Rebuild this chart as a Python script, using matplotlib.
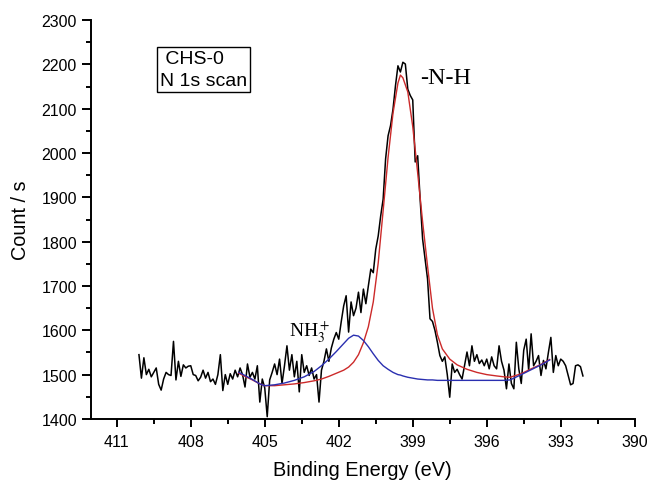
import numpy as np
import matplotlib
matplotlib.use('Agg')
import matplotlib.pyplot as plt
from matplotlib.ticker import MultipleLocator

plt.rcParams['font.family'] = ['Liberation Sans', 'DejaVu Sans']
plt.rcParams['mathtext.fontset'] = 'stix'

#
# raw N 1s spectrum, 0.1 eV steps from 410.1 eV down to 392.1 eV
#
be_start, be_end = 410.1, 392.1
counts = [
    1545, 1492, 1538, 1500, 1512, 1495, 1505, 1515, 1478, 1465,
    1490, 1505, 1500, 1498, 1575, 1488, 1530, 1496, 1522, 1515,
    1519, 1520, 1500, 1498, 1486, 1494, 1510, 1492, 1505, 1484,
    1490, 1478, 1500, 1545, 1464, 1500, 1478, 1502, 1490, 1510,
    1495, 1515, 1500, 1472, 1524, 1494, 1505, 1490, 1520, 1438,
    1490, 1470, 1405, 1488, 1505, 1524, 1500, 1535, 1480, 1520,
    1565, 1510, 1545, 1495, 1530, 1461, 1545, 1505, 1520, 1498,
    1515, 1490, 1500, 1438, 1510, 1530, 1558, 1530, 1560, 1580,
    1595, 1580, 1619, 1655, 1678, 1596, 1664, 1633, 1650, 1686,
    1640, 1693, 1660, 1700, 1738, 1730, 1783, 1813, 1858, 1896,
    1987, 2039, 2062, 2099, 2152, 2197, 2183, 2205, 2201, 2144,
    2130, 2120, 1980, 1994, 1896, 1806, 1760, 1716, 1626, 1620,
    1600, 1573, 1543, 1530, 1540, 1500, 1449, 1524, 1505, 1512,
    1500, 1490, 1520, 1551, 1520, 1565, 1530, 1545, 1525, 1533,
    1520, 1535, 1513, 1540, 1520, 1513, 1565, 1530, 1510, 1468,
    1524, 1480, 1468, 1573, 1513, 1480, 1555, 1580, 1510, 1592,
    1520, 1530, 1543, 1498, 1532, 1513, 1550, 1584, 1505, 1543,
    1520, 1535, 1530, 1520, 1498, 1477, 1480, 1520, 1522, 1518,
    1497,
]

#
# fitted components (each drawn on top of the background)
#
fit_be = [406.05, 405.8, 405.5, 405.2, 405.0, 404.6, 404.2, 403.8, 403.4,
          403.0, 402.7, 402.4, 402.1, 401.8, 401.6, 401.4, 401.2, 401.0,
          400.8, 400.6, 400.4, 400.2, 400.0, 399.8, 399.6, 399.5, 399.4,
          399.2, 399.0, 398.8, 398.6, 398.4, 398.2, 398.0, 397.8, 397.5,
          397.2, 396.8, 396.4, 396.0, 395.6, 395.3, 395.05, 394.6, 394.2,
          393.8, 393.45]
fit_nh = [1503, 1496, 1488, 1479, 1475, 1475, 1477, 1479, 1482,
          1486, 1490, 1496, 1503, 1510, 1517, 1528, 1545, 1572,
          1608, 1664, 1752, 1870, 1990, 2090, 2158, 2176, 2170,
          2138, 2060, 1955, 1845, 1745, 1650, 1590, 1558, 1535,
          1522, 1512, 1505, 1500, 1497, 1495, 1494, 1502, 1513,
          1523, 1534]
fit_nh3 = [1505, 1498, 1489, 1479, 1475, 1477, 1481, 1487, 1495,
           1507, 1520, 1535, 1552, 1570, 1582, 1589, 1587, 1577,
           1563, 1547, 1532, 1520, 1512, 1505, 1500, 1499, 1497,
           1494, 1492, 1490, 1489, 1488, 1488, 1487, 1487, 1487,
           1487, 1487, 1487, 1487, 1487, 1487, 1488, 1500, 1511,
           1522, 1533]

x_ticks = [411, 408, 405, 402, 399, 396, 393, 390]

be = np.linspace(be_start, be_end, len(counts))

fig = plt.figure(figsize=(6.49, 4.81), dpi=100)
ax = fig.add_axes([0.140, 0.127, 0.838, 0.829])

ax.plot(be, counts, color='k', lw=1.1)
ax.plot(fit_be, fit_nh, color='#cc2a2a', lw=1.0)
ax.plot(fit_be, fit_nh3, color='#2a2fb0', lw=1.0)

ax.set_xlim(412.05, 390)
ax.set_ylim(1400, 2300)
ax.set_xticks(x_ticks)
ax.xaxis.set_minor_locator(MultipleLocator(1.5))
ax.yaxis.set_major_locator(MultipleLocator(100))
ax.yaxis.set_minor_locator(MultipleLocator(50))

for side in ('top', 'right'):
    ax.spines[side].set_visible(False)
for side in ('left', 'bottom'):
    ax.spines[side].set_linewidth(1.4)

ax.tick_params(which='major', direction='out', length=6.5, width=1.4,
               labelsize=11.5, pad=3.5, colors='k')
ax.tick_params(which='minor', direction='out', length=3.5, width=1.4)
ax.tick_params(axis='x', which='major', length=6, pad=5)

ax.set_xlabel('Binding Energy (eV)', fontsize=14.3, labelpad=8)
ax.set_ylabel('Count / s', fontsize=14.3, labelpad=8)

# sample label box
fig.text(0.2465, 0.895, ' CHS-0\nN 1s scan', fontsize=14, ha='left',
         va='top', linespacing=1.4,
         bbox=dict(boxstyle='square,pad=0.15', fc='white', ec='k', lw=1.0))

# peak labels
ax.text(398.72, 2171, '-N-H', family='Liberation Serif', fontsize=17.5,
        ha='left', va='center')
ax.text(404.0, 1600, r'NH$_3^+$', family='Liberation Serif', fontsize=14,
        ha='left', va='center')

fig.savefig('out.png', dpi=100)
